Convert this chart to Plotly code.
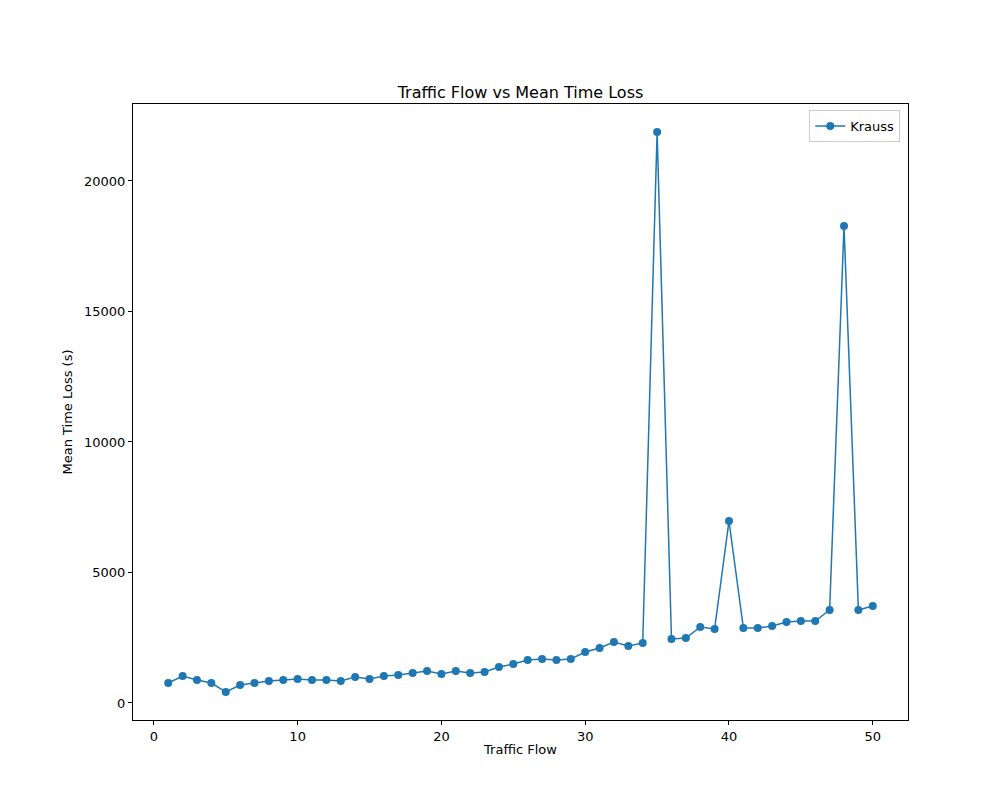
import plotly.graph_objects as go

traffic_flow = list(range(1, 51))
mean_time_loss = [766, 1034, 881, 766, 421, 690, 766, 843, 881, 920,
                  881, 881, 843, 996, 920, 1034, 1073, 1149, 1226, 1111,
                  1226, 1149, 1188, 1379, 1494, 1648, 1686, 1648, 1686, 1954,
                  2107, 2337, 2184, 2299, 21877, 2452, 2490, 2912, 2835, 6973,
                  2873, 2873, 2950, 3103, 3142, 3142, 3563, 18275, 3563, 3716]
y_ticks = [0, 5000, 10000, 15000, 20000]

fig = go.Figure(go.Scatter(x=traffic_flow, y=mean_time_loss, mode="lines+markers",
                           name="Krauss", line=dict(color="#1f77b4", width=1.5),
                           marker=dict(color="#1f77b4", size=8)))

axis = dict(showgrid=False, zeroline=False, showline=True, mirror=True, linecolor="black",
            ticks="outside", tickcolor="black", ticklen=4, tickfont=dict(size=13),
            automargin=False)
fig.update_xaxes(axis, range=[-1.45, 52.45], tickvals=[0, 10, 20, 30, 40, 50],
                 title=dict(text="Traffic Flow", font=dict(size=13), standoff=2))
fig.update_yaxes(axis, range=[-652, 22950], tickvals=y_ticks,
                 ticktext=[str(v) for v in y_ticks],
                 title=dict(text="Mean Time Loss (s)", font=dict(size=13), standoff=8))
fig.update_layout(width=1000, height=800, plot_bgcolor="white", paper_bgcolor="white",
                  font=dict(family="DejaVu Sans", color="black"),
                  title=dict(text="Traffic Flow vs Mean Time Loss", x=0.5125, y=0.8875,
                             xanchor="center", yanchor="bottom", font=dict(size=16)),
                  margin=dict(l=125, r=100, t=96, b=88),
                  showlegend=True,
                  legend=dict(x=0.99, y=0.99, xanchor="right", yanchor="top",
                              bordercolor="#cccccc", borderwidth=1, font=dict(size=13)))
fig.write_html("out.html")
